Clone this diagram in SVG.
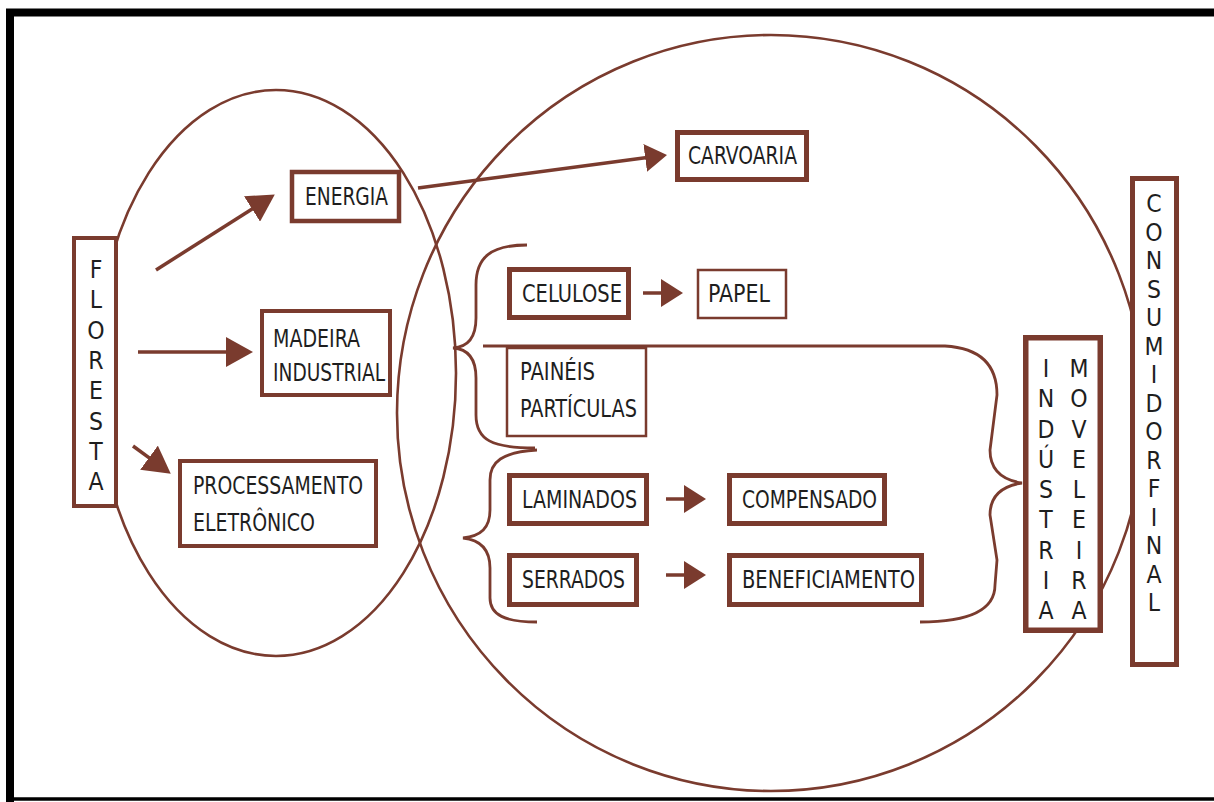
<svg xmlns="http://www.w3.org/2000/svg" width="1214" height="802" viewBox="0 0 1214 802">
<defs>
<style>
.frame{fill:none;stroke:#000}
.ell{fill:none;stroke:#7a3b2e;stroke-width:2.6}
.br{fill:none;stroke:#7a3b2e;stroke-width:2.8}
.box{fill:#fff;stroke:#7a3b2e}
.ln{fill:none;stroke:#7a3b2e;stroke-width:3.5}
text{font-family:'Liberation Sans Narrow','DejaVu Sans Condensed','Liberation Sans',sans-serif;font-size:24.5px;fill:#1e1e1e}
.v{text-anchor:middle}
</style>
<marker id="big" viewBox="0 0 27 30" markerWidth="27" markerHeight="30" refX="2" refY="15" orient="auto" markerUnits="userSpaceOnUse">
<path d="M0,0 L27,15 L0,30 z" fill="#7a3b2e"/>
</marker>
<marker id="med" viewBox="0 0 22 28" markerWidth="22" markerHeight="28" refX="2" refY="14" orient="auto" markerUnits="userSpaceOnUse">
<path d="M0,0 L22,14 L0,28 z" fill="#7a3b2e"/>
</marker>
</defs>
<g id="frame">
<path class="frame" stroke-width="8" d="M10,802 L10,12.5 L1214,12.5"/>
<path class="frame" stroke-width="3.5" d="M6,799 L1214,799"/>
</g>
<g id="circles">
<ellipse class="ell" cx="276" cy="373" rx="180" ry="283"/>
<ellipse class="ell" cx="771" cy="413" rx="374" ry="378"/>
</g>
<g id="connectors">
<line class="ln" x1="156" y1="270" x2="253.7" y2="207.9" marker-end="url(#big)"/>
<line class="ln" x1="138" y1="352" x2="228" y2="352" marker-end="url(#big)"/>
<line class="ln" x1="133" y1="446" x2="150.6" y2="458.9" marker-end="url(#big)"/>
<line class="ln" x1="418" y1="188" x2="647.2" y2="157.6" marker-end="url(#med)"/>
<line class="ln" x1="643" y1="293" x2="663" y2="293" marker-end="url(#med)"/>
<line class="ln" x1="666" y1="499" x2="686" y2="499" marker-end="url(#med)"/>
<line class="ln" x1="666" y1="575" x2="686" y2="575" marker-end="url(#med)"/>
<path class="br" d="M527,245 C490,245 476,258 476,285 L476,318 C476,338 468,347 453,348 C468,349 476,358 476,378 L476,415 C476,440 492,448 535,448"/>
<path class="br" d="M537,450 C502,452 490,462 490,480 L490,510 C490,528 481,536 463,538 C481,540 490,550 490,568 L490,598 C490,615 505,622 537,622"/>
<path class="br" d="M483,346 L945,346 C980,348 997,365 997,395 L990,450 C990,470 1002,480 1022,483 C1002,486 990,496 990,515 L997,560 L995,585 C995,610 970,622 920,622"/>
</g>
<g id="floresta">
<rect class="box" x="74" y="238" width="42" height="268" stroke-width="4"/>
<text class="v"><tspan x="96" y="278">F</tspan><tspan x="96" y="308">L</tspan><tspan x="96" y="339">O</tspan><tspan x="96" y="369">R</tspan><tspan x="96" y="399">E</tspan><tspan x="96" y="430">S</tspan><tspan x="96" y="460">T</tspan><tspan x="96" y="490">A</tspan></text>
</g>
<g id="energia">
<rect class="box" x="292" y="172" width="107" height="49" stroke-width="4.5"/>
<text x="305" y="205" textLength="83" lengthAdjust="spacingAndGlyphs">ENERGIA</text>
</g>
<g id="madeira">
<rect class="box" x="262" y="311" width="128" height="84" stroke-width="4"/>
<text x="273" y="347" textLength="87" lengthAdjust="spacingAndGlyphs">MADEIRA</text>
<text x="273" y="381" textLength="112" lengthAdjust="spacingAndGlyphs">INDUSTRIAL</text>
</g>
<g id="processamento">
<rect class="box" x="180" y="461" width="196" height="85" stroke-width="4"/>
<text x="193" y="494" textLength="170" lengthAdjust="spacingAndGlyphs">PROCESSAMENTO</text>
<text x="193" y="531" textLength="122" lengthAdjust="spacingAndGlyphs">ELETRÔNICO</text>
</g>
<g id="carvoaria">
<rect class="box" x="677.5" y="132.5" width="129" height="47" stroke-width="5"/>
<text x="688" y="164" textLength="109" lengthAdjust="spacingAndGlyphs">CARVOARIA</text>
</g>
<g id="celulose">
<rect class="box" x="509.5" y="269.5" width="119" height="48" stroke-width="5"/>
<text x="522" y="302" textLength="100" lengthAdjust="spacingAndGlyphs">CELULOSE</text>
</g>
<g id="papel">
<rect class="box" x="698" y="270" width="88" height="48" stroke-width="2.5"/>
<text x="708" y="302" textLength="62" lengthAdjust="spacingAndGlyphs">PAPEL</text>
</g>
<g id="paineis">
<rect class="box" x="507" y="348" width="139" height="88" stroke-width="2.5"/>
<text x="520" y="380" textLength="75" lengthAdjust="spacingAndGlyphs">PAINÉIS</text>
<text x="520" y="417" textLength="117" lengthAdjust="spacingAndGlyphs">PARTÍCULAS</text>
</g>
<g id="laminados">
<rect class="box" x="509.5" y="475.5" width="137" height="48" stroke-width="5"/>
<text x="522" y="508" textLength="115" lengthAdjust="spacingAndGlyphs">LAMINADOS</text>
</g>
<g id="compensado">
<rect class="box" x="729.5" y="475.5" width="155" height="48" stroke-width="5"/>
<text x="742" y="508" textLength="135" lengthAdjust="spacingAndGlyphs">COMPENSADO</text>
</g>
<g id="serrados">
<rect class="box" x="509.5" y="555.5" width="127" height="49" stroke-width="5"/>
<text x="522" y="588" textLength="103" lengthAdjust="spacingAndGlyphs">SERRADOS</text>
</g>
<g id="beneficiamento">
<rect class="box" x="729.5" y="555.5" width="192" height="49" stroke-width="5"/>
<text x="742" y="588" textLength="173" lengthAdjust="spacingAndGlyphs">BENEFICIAMENTO</text>
</g>
<g id="industria-moveleira">
<rect class="box" x="1025.75" y="337.75" width="74.5" height="292.5" stroke-width="5.5"/>
<text class="v"><tspan x="1046" y="377">I</tspan><tspan x="1046" y="407">N</tspan><tspan x="1046" y="437.5">D</tspan><tspan x="1046" y="468">Ú</tspan><tspan x="1046" y="498">S</tspan><tspan x="1046" y="528">T</tspan><tspan x="1046" y="558.5">R</tspan><tspan x="1046" y="589">I</tspan><tspan x="1046" y="619">A</tspan></text>
<text class="v"><tspan x="1079" y="377">M</tspan><tspan x="1079" y="407">O</tspan><tspan x="1079" y="437.5">V</tspan><tspan x="1079" y="468">E</tspan><tspan x="1079" y="498">L</tspan><tspan x="1079" y="528">E</tspan><tspan x="1079" y="558.5">I</tspan><tspan x="1079" y="589">R</tspan><tspan x="1079" y="619">A</tspan></text>
</g>
<g id="consumidor-final">
<rect class="box" x="1132.5" y="178.5" width="44" height="486" stroke-width="5"/>
<text class="v"><tspan x="1154" y="212">C</tspan><tspan x="1154" y="240.5">O</tspan><tspan x="1154" y="269">N</tspan><tspan x="1154" y="297.5">S</tspan><tspan x="1154" y="326">U</tspan><tspan x="1154" y="354.5">M</tspan><tspan x="1154" y="383">I</tspan><tspan x="1154" y="411.5">D</tspan><tspan x="1154" y="440">O</tspan><tspan x="1154" y="468.5">R</tspan><tspan x="1154" y="497">F</tspan><tspan x="1154" y="525.5">I</tspan><tspan x="1154" y="554">N</tspan><tspan x="1154" y="582.5">A</tspan><tspan x="1154" y="611">L</tspan></text>
</g>
</svg>
